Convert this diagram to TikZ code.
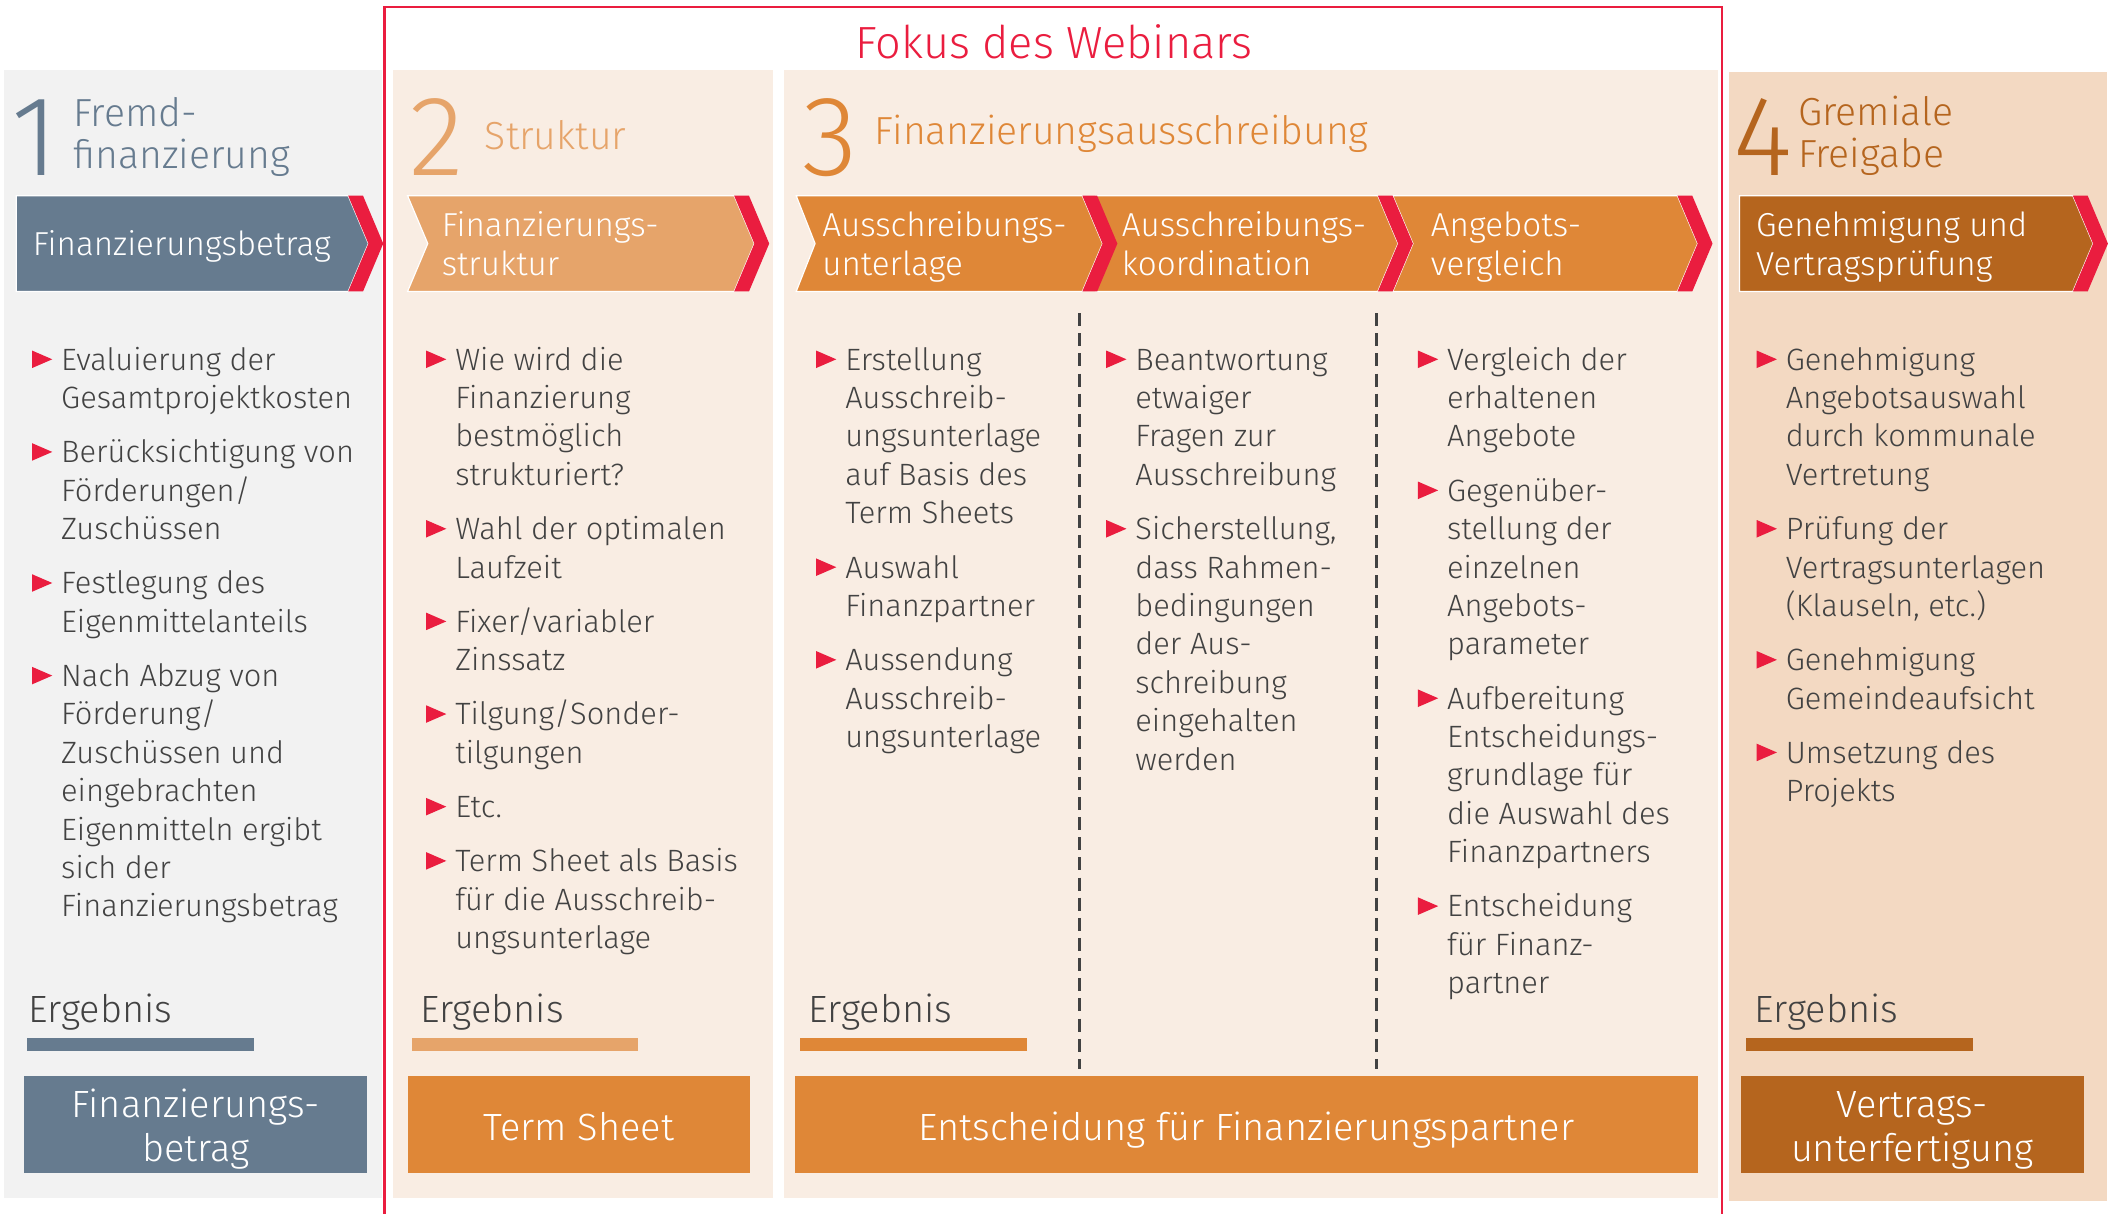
\documentclass[tikz,border=0pt]{standalone}
\usepackage{fontspec}
\setmainfont{Fira Sans Light}
\usetikzlibrary{positioning,shapes.geometric}

\definecolor{hgrau}{HTML}{F2F2F2}
\definecolor{hcreme}{HTML}{F9EDE3}
\definecolor{hsand}{HTML}{F3D9C2}
\definecolor{schiefer}{HTML}{667B8F}
\definecolor{apricot}{HTML}{E6A46A}
\definecolor{kupfer}{HTML}{DF8737}
\definecolor{braun}{HTML}{B5651E}
\definecolor{signal}{HTML}{EA1D3F}
\definecolor{schrift}{HTML}{424242}

% mehrzeilige Texte
\newcommand\zeilen[1]{\begin{tabular}[t]{@{}l@{}}#1\end{tabular}}
\newcommand\links[1]{\begin{tabular}{@{}l@{}}#1\end{tabular}}
\newcommand\mitte[1]{\begin{tabular}[t]{@{}c@{}}#1\end{tabular}}

\begin{document}
\begin{tikzpicture}[x=0.2mm, y=-0.2mm,
    punkt/.style={anchor=north west, inner sep=0pt, text=schrift,
      font=\fontsize{13}{16.2}\selectfont, label={[dreieck]north west:{}}},
    dreieck/.style={isosceles triangle, isosceles triangle stretches=true,
      fill=signal, minimum width=2.6mm, minimum height=3mm, inner sep=0pt,
      anchor=center, xshift=-3.4mm, yshift=-2.45mm},
    nach/.style={below=2.2mm of #1.south west, anchor=north west},
    zahl/.style={anchor=base west, inner sep=0pt, font=\fontsize{48}{48}\selectfont},
    titel/.style={anchor=west, inner sep=0pt, font=\fontsize{16.5}{17}\selectfont},
    pfeiltext/.style={anchor=west, inner sep=0pt, text=white,
      font=\fontsize{14}{16.2}\selectfont},
    ergebnis/.style={anchor=west, inner sep=0pt, text=schrift,
      font=\fontsize{16}{18}\selectfont},
    boxtext/.style={anchor=base, inner sep=0pt, text=white,
      font=\fontsize{16}{18.8}\selectfont}]

  \useasboundingbox (0,0) rectangle (1568,899);

  % Spalten
  \fill[hgrau] (3,52) rectangle (283,888);
  \fill[hcreme] (291,52) rectangle (573,888);
  \fill[hcreme] (581,52) rectangle (1273,888);
  \fill[hsand] (1281,53) rectangle (1561,890);

  % Rahmen Webinar
  \draw[signal, line width=1pt] (285,905) -- (285,5) -- (1276,5) -- (1276,905);
  \node[text=signal, font=\fontsize{19}{19}\selectfont] (fokus) at (781,31) {Fokus des Webinars};

  % Koepfe
  \node[zahl, text=schiefer] (n1) at (8,130) {1};
  \node[titel, text=schiefer] (t1) at (54,103) {\links{Fremd-\\finanzierung}};
  \node[zahl, text=apricot] (n2) at (303,130) {2};
  \node[titel, text=apricot] (t2) at (359,100) {Struktur};
  \node[zahl, text=kupfer] (n3) at (594,130) {3};
  \node[titel, text=kupfer] (t3) at (648,99) {Finanzierungsausschreibung};
  \node[zahl, text=braun] (n4) at (1284,130) {4};
  \node[titel, text=braun] (t4) at (1332,102) {\links{Gremiale\\Freigabe}};

  % Pfeile
  \begin{scope}[draw=white, line width=0.5pt]
    \filldraw[fill=schiefer] (12,145) -- (258,145) -- (273,180.5) -- (258,216) -- (12,216) -- cycle;
    \filldraw[fill=apricot] (302,145) -- (544,145) -- (559,180.5) -- (544,216) -- (302,216) -- (317,180.5) -- cycle;
    \filldraw[fill=kupfer] (590,145) -- (802,145) -- (817,180.5) -- (802,216) -- (590,216) -- (604,180.5) -- cycle;
    \filldraw[fill=kupfer] (812,145) -- (1021,145) -- (1036,180.5) -- (1021,216) -- (812,216) -- (827,180.5) -- cycle;
    \filldraw[fill=kupfer] (1032,145) -- (1243,145) -- (1258,180.5) -- (1243,216) -- (1032,216) -- (1047,180.5) -- cycle;
    \filldraw[fill=braun] (1289,145) -- (1536,145) -- (1551,180.5) -- (1536,216) -- (1289,216) -- cycle;
  \end{scope}
  \foreach \x in {258,544,802,1021,1243,1536}
    \fill[signal] (\x,145) -- ++(11,0) -- ++(15,35.5) -- ++(-15,35.5) -- ++(-11,0) -- ++(15,-35.5) -- cycle;

  \node[pfeiltext] (p1) at (24,184) {\links{Finanzierungsbetrag}};
  \node[pfeiltext] (p2) at (327,184) {\links{Finanzierungs-\\struktur}};
  \node[pfeiltext] (p3) at (609,184) {\links{Ausschreibungs-\\unterlage}};
  \node[pfeiltext] (p4) at (831,184) {\links{Ausschreibungs-\\koordination}};
  \node[pfeiltext] (p5) at (1060,184) {\links{Angebots-\\vergleich}};
  \node[pfeiltext] (p6) at (1301,184) {\links{Genehmigung und\\Vertragsprüfung}};

  % Trennlinien in Phase 3
  \draw[schrift, line width=1pt, dash pattern=on 5.5pt off 3pt] (800,232) -- (800,792);
  \draw[schrift, line width=1pt, dash pattern=on 5.5pt off 3pt] (1020,232) -- (1020,792);

  % Aufzaehlungen
  \node[punkt] (e1a) at (45,254) {\zeilen{Evaluierung der\\Gesamtprojektkosten}};
  \node[punkt, nach=e1a] (e1b) {\zeilen{Berücksichtigung von\\Förderungen/\\Zuschüssen}};
  \node[punkt, nach=e1b] (e1c) {\zeilen{Festlegung des\\Eigenmittelanteils}};
  \node[punkt, nach=e1c] (e1d) {\zeilen{Nach Abzug von\\Förderung/\\Zuschüssen und\\eingebrachten\\Eigenmitteln ergibt\\sich der\\Finanzierungsbetrag}};

  \node[punkt] (e2a) at (337,254) {\zeilen{Wie wird die\\Finanzierung\\bestmöglich\\strukturiert?}};
  \node[punkt, nach=e2a] (e2b) {\zeilen{Wahl der optimalen\\Laufzeit}};
  \node[punkt, nach=e2b] (e2c) {\zeilen{Fixer/variabler\\Zinssatz}};
  \node[punkt, nach=e2c] (e2d) {\zeilen{Tilgung/Sonder-\\tilgungen}};
  \node[punkt, nach=e2d] (e2e) {\zeilen{Etc.}};
  \node[punkt, nach=e2e] (e2f) {\zeilen{Term Sheet als Basis\\für die Ausschreib-\\ungsunterlage}};

  \node[punkt] (e3a) at (626,254) {\zeilen{Erstellung\\Ausschreib-\\ungsunterlage\\auf Basis des\\Term Sheets}};
  \node[punkt, nach=e3a] (e3b) {\zeilen{Auswahl\\Finanzpartner}};
  \node[punkt, nach=e3b] (e3c) {\zeilen{Aussendung\\Ausschreib-\\ungsunterlage}};

  \node[punkt] (e4a) at (841,254) {\zeilen{Beantwortung\\etwaiger\\Fragen zur\\Ausschreibung}};
  \node[punkt, nach=e4a] (e4b) {\zeilen{Sicherstellung,\\dass Rahmen-\\bedingungen\\der Aus-\\schreibung\\eingehalten\\werden}};

  \node[punkt] (e5a) at (1072,254) {\zeilen{Vergleich der\\erhaltenen\\Angebote}};
  \node[punkt, nach=e5a] (e5b) {\zeilen{Gegenüber-\\stellung der\\einzelnen\\Angebots-\\parameter}};
  \node[punkt, nach=e5b] (e5c) {\zeilen{Aufbereitung\\Entscheidungs-\\grundlage für\\die Auswahl des\\Finanzpartners}};
  \node[punkt, nach=e5c] (e5d) {\zeilen{Entscheidung\\für Finanz-\\partner}};

  \node[punkt] (e6a) at (1323,254) {\zeilen{Genehmigung\\Angebotsauswahl\\durch kommunale\\Vertretung}};
  \node[punkt, nach=e6a] (e6b) {\zeilen{Prüfung der\\Vertragsunterlagen\\(Klauseln, etc.)}};
  \node[punkt, nach=e6b] (e6c) {\zeilen{Genehmigung\\Gemeindeaufsicht}};
  \node[punkt, nach=e6c] (e6d) {\zeilen{Umsetzung des\\Projekts}};

  % Ergebnisse
  \node[ergebnis] (g1) at (21,750) {Ergebnis};
  \node[ergebnis] (g2) at (311,750) {Ergebnis};
  \node[ergebnis] (g3) at (599,750) {Ergebnis};
  \node[ergebnis] (g4) at (1300,750) {Ergebnis};
  \fill[schiefer] (20,769) rectangle (188,779);
  \fill[apricot] (305,769) rectangle (473,779);
  \fill[kupfer] (593,769) rectangle (761,779);
  \fill[braun] (1294,769) rectangle (1462,779);

  \fill[schiefer] (18,797) rectangle (272,869);
  \fill[kupfer] (302,797) rectangle (556,869);
  \fill[kupfer] (589,797) rectangle (1258,869);
  \fill[braun] (1290,797) rectangle (1544,869);
  \node[boxtext] (r1) at (145,828) {\mitte{Finanzierungs-\\betrag}};
  \node[boxtext] (r2) at (429,845) {Term Sheet};
  \node[boxtext] (r3) at (923.5,845) {Entscheidung für Finanzierungspartner};
  \node[boxtext] (r4) at (1417,828) {\mitte{Vertrags-\\unterfertigung}};
\end{tikzpicture}
\end{document}
